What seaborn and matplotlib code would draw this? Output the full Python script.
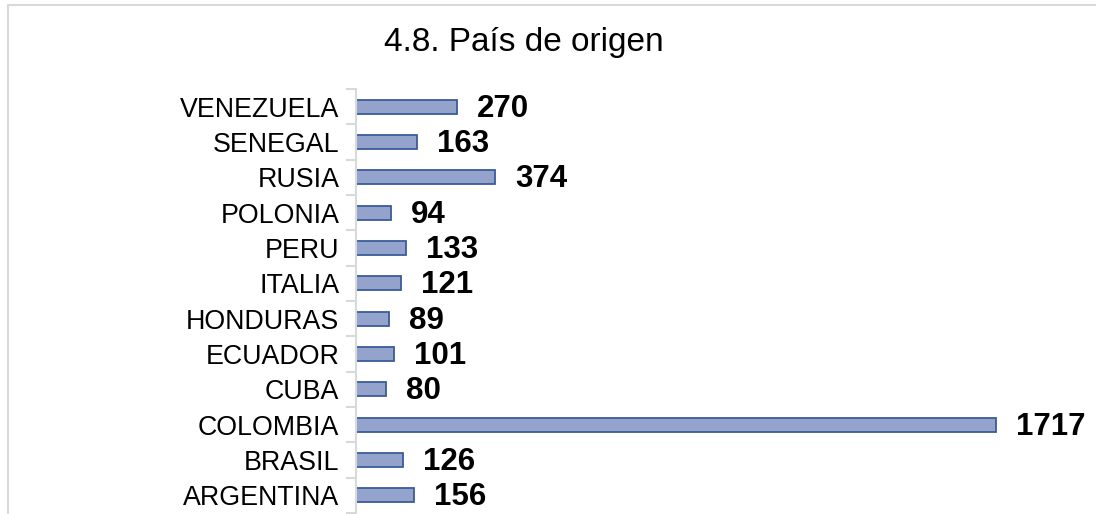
import pandas as pd
import seaborn as sns
import matplotlib.pyplot as plt
from matplotlib.lines import Line2D
from matplotlib.ticker import FixedLocator

# data, top to bottom as shown in the chart
paises = ["VENEZUELA", "SENEGAL", "RUSIA", "POLONIA", "PERU", "ITALIA",
          "HONDURAS", "ECUADOR", "CUBA", "COLOMBIA", "BRASIL", "ARGENTINA"]
personas = [270, 163, 374, 94, 133, 121, 89, 101, 80, 1717, 126, 156]
titulo = "4.8. País de origen"

df = pd.DataFrame({"pais": paises, "n": personas})

sns.set_theme(style="white")
plt.rcParams["font.family"] = ["Liberation Sans", "DejaVu Sans"]

fig = plt.figure(figsize=(10.96, 5.14), dpi=100)
ax = fig.add_axes([356 / 1096, 0.0, 684 / 1096, 425 / 514])

sns.barplot(data=df, x="n", y="pais", order=paises, orient="h",
            color="#94a3cb", saturation=1, width=0.4,
            edgecolor="#3b5b9c", linewidth=1.3, ax=ax)

# value labels
for i, v in enumerate(personas):
    ax.annotate(str(v), xy=(v, i), xytext=(20, -2), textcoords="offset pixels",
                ha="left", va="center", fontsize=22.5, fontweight="bold", color="black")

ax.set_xlim(0, 1835)
ax.set_ylim(len(paises) - 0.5 + 0.03, -0.5)
ax.set_xlabel("")
ax.set_ylabel("")
ax.set_xticks([])

for s in ["top", "right", "bottom"]:
    ax.spines[s].set_visible(False)
ax.spines["left"].set_color("#d9d9d9")
ax.spines["left"].set_linewidth(1.5)

# ticks between categories
ax.yaxis.set_minor_locator(FixedLocator([i - 0.5 for i in range(len(paises) + 1)]))
ax.tick_params(axis="y", which="major", length=0, pad=12, labelsize=19.3, labelcolor="black")
ax.tick_params(axis="y", which="minor", left=True, length=7, width=1.5, color="#d9d9d9")
for lbl in ax.get_yticklabels():
    lbl.set_verticalalignment("center_baseline")

fig.text(524 / 1096, 1 - 42 / 514, titulo, ha="center", va="center", fontsize=24, color="black")

# chart border (top and left visible)
fig.add_artist(Line2D([8 / 1096, 1], [1 - 5 / 514, 1 - 5 / 514], color="#d9d9d9", lw=1.5))
fig.add_artist(Line2D([8 / 1096, 8 / 1096], [0, 1 - 5 / 514], color="#d9d9d9", lw=1.5))

fig.savefig("out.png", dpi=100)
